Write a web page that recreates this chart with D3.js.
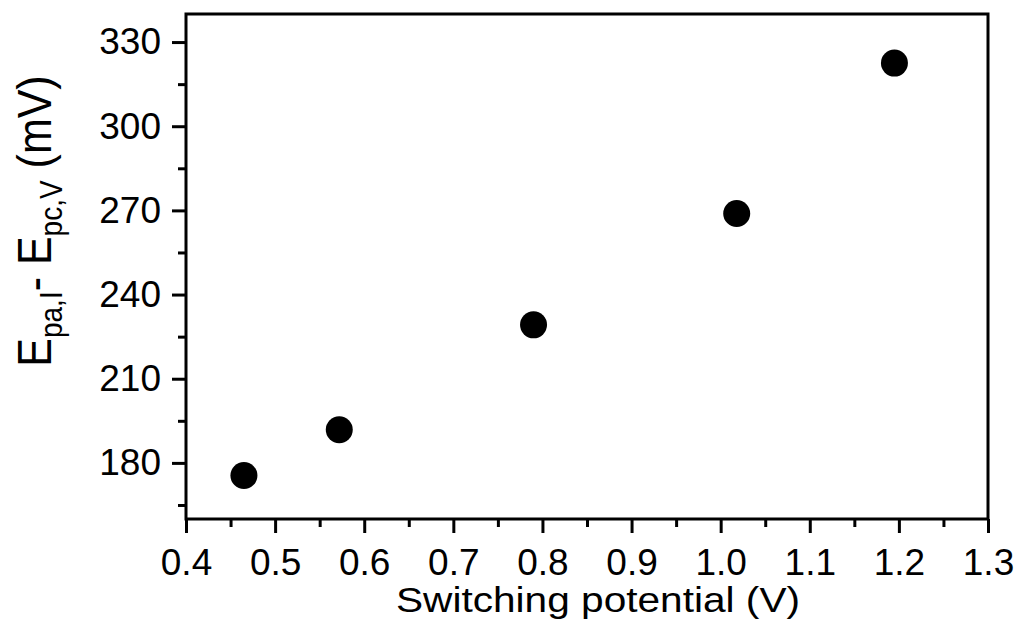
<!DOCTYPE html>
<html>
<head>
<meta charset="utf-8">
<script src="https://d3js.org/d3.v7.min.js"></script>
<style>
  body { margin: 0; background: #fff; }
  svg { display: block; font-family: "Liberation Sans", Arial, sans-serif; }
</style>
</head>
<body>
<svg id="chart" width="1021" height="633"></svg>
<script>
// values
var switchingPotential = [0.465, 0.572, 0.79, 1.018, 1.195];
var peakSeparation = [175.5, 191.8, 229.2, 268.9, 322.5];

var xTicks = [0.4, 0.5, 0.6, 0.7, 0.8, 0.9, 1.0, 1.1, 1.2, 1.3];
var xMinor = [0.45, 0.55, 0.65, 0.75, 0.85, 0.95, 1.05, 1.15, 1.25];
var yTicks = [180, 210, 240, 270, 300, 330];
var yMinor = [165, 195, 225, 255, 285, 315];

var svg = d3.select("#chart"),
    margin = {top: 14, right: 33, bottom: 114, left: 186},
    width = +svg.attr("width") - margin.left - margin.right,
    height = +svg.attr("height") - margin.top - margin.bottom,
    g = svg.append("g").attr("transform", "translate(" + margin.left + "," + margin.top + ")");

var x = d3.scaleLinear()
    .domain([0.4, 1.3])
    .range([0, width]);

var y = d3.scaleLinear()
    .domain([160, 340])
    .range([height, 0]);

var lw = 3;

// minor ticks first, then major axes on top
g.append("g")
    .attr("transform", "translate(0," + height + ")")
    .call(d3.axisBottom(x).tickValues(xMinor).tickSize(8).tickFormat(""))
    .call(function (a) { a.select(".domain").remove(); })
    .selectAll("line").attr("stroke-width", lw);

g.append("g")
    .call(d3.axisLeft(y).tickValues(yMinor).tickSize(8).tickFormat(""))
    .call(function (a) { a.select(".domain").remove(); })
    .selectAll("line").attr("stroke-width", lw);

var xAxis = g.append("g")
    .attr("transform", "translate(0," + height + ")")
    .call(d3.axisBottom(x).tickValues(xTicks).tickSize(14).tickPadding(16).tickFormat(d3.format(".1f")));

var yAxis = g.append("g")
    .call(d3.axisLeft(y).tickValues(yTicks).tickSize(14).tickPadding(11).tickFormat(d3.format("d")));

[xAxis, yAxis].forEach(function (a) {
    a.select(".domain").remove();
    a.selectAll("line").attr("stroke", "#000").attr("stroke-width", lw);
    a.selectAll("text")
        .attr("fill", "#000")
        .style("font-size", "37px")
        .style("font-family", "'Liberation Sans', Arial, sans-serif");
});
xAxis.selectAll("text").attr("dy", "0.71em");

// frame
g.append("rect")
    .attr("x", 0)
    .attr("y", 0)
    .attr("width", width)
    .attr("height", height)
    .attr("fill", "none")
    .attr("stroke", "#000")
    .attr("stroke-width", lw);

// points
g.selectAll("circle.pt")
    .data(switchingPotential)
    .enter()
    .append("circle")
    .attr("class", "pt")
    .attr("cx", function (d) { return x(d); })
    .attr("cy", function (d, i) { return y(peakSeparation[i]); })
    .attr("r", 13.5)
    .attr("fill", "#000");

// axis titles
svg.append("text")
    .attr("x", 598)
    .attr("y", 612)
    .attr("text-anchor", "middle")
    .style("font-size", "35px")
    .attr("textLength", 404)
    .attr("lengthAdjust", "spacingAndGlyphs")
    .text("Switching potential (V)");

// y title: glyphs a bit taller than wide, as in the original
var yt = svg.append("text")
    .attr("transform", "translate(51,221) rotate(-90) scale(1,1.1)")
    .attr("text-anchor", "middle")
    .style("font-size", "43px");
yt.append("tspan").text("E");
yt.append("tspan").attr("dy", 10).style("font-size", "28px").text("pa,I");
yt.append("tspan").attr("dy", -10).text("- E");
yt.append("tspan").attr("dy", 10).style("font-size", "28px").text("pc,V");
yt.append("tspan").attr("dy", -10).text(" (mV)");
</script>
</body>
</html>
